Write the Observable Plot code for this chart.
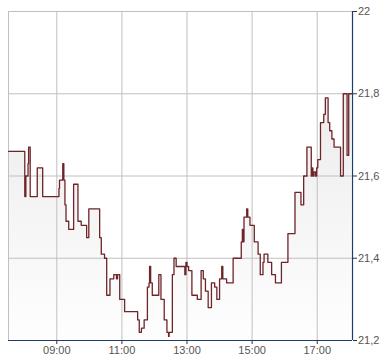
<!DOCTYPE html>
<html>
<head>
<meta charset="utf-8">
<script src="https://cdn.jsdelivr.net/npm/d3@7"></script>
<script src="https://cdn.jsdelivr.net/npm/@observablehq/plot@0.6"></script>
<style>
  html, body { margin: 0; padding: 0; background: #fff; }
  #chart text { fill: #555; }
</style>
</head>
<body>
<div id="chart"></div>
<script>
const times = ["07:31","08:01","08:03","08:07","08:08","08:11","08:24","08:34","09:04","09:05",
  "09:11","09:13","09:15","09:17","09:22","09:31","09:39","09:45","09:55","09:59",
  "10:19","10:22","10:28","10:32","10:38","10:45","10:50","10:52","10:56","11:05",
  "11:29","11:32","11:36","11:41","11:47","11:50","11:51","11:53","11:56","12:08",
  "12:12","12:18","12:23","12:26","12:27","12:33","12:36","12:40","12:56","12:58",
  "13:00","13:03","13:09","13:19","13:26","13:30","13:34","13:39","13:45","13:51",
  "13:55","14:00","14:04","14:06","14:13","14:25","14:40","14:42","14:43","14:45",
  "14:50","14:52","14:56","15:04","15:11","15:15","15:20","15:22","15:29","15:36",
  "15:43","15:54","16:06","16:19","16:30","16:35","16:41","16:49","16:50","16:52",
  "16:54","16:57","16:59","17:01","17:06","17:12","17:15","17:20","17:23","17:27",
  "17:31","17:43","17:48","17:55","17:58","18:03"];
const prices = [21.66,21.55,21.60,21.63,21.67,21.55,21.62,21.55,21.57,21.59,
  21.63,21.59,21.53,21.49,21.47,21.58,21.49,21.48,21.45,21.52,
  21.45,21.41,21.40,21.31,21.35,21.36,21.35,21.36,21.30,21.27,
  21.25,21.22,21.23,21.25,21.33,21.34,21.38,21.34,21.31,21.36,
  21.30,21.25,21.22,21.21,21.22,21.36,21.40,21.38,21.36,21.39,
  21.38,21.37,21.31,21.30,21.37,21.35,21.32,21.28,21.34,21.33,
  21.30,21.35,21.38,21.35,21.34,21.40,21.44,21.47,21.44,21.50,
  21.52,21.50,21.48,21.44,21.41,21.36,21.39,21.41,21.39,21.36,
  21.34,21.39,21.46,21.56,21.53,21.60,21.67,21.60,21.62,21.60,
  21.61,21.60,21.62,21.64,21.73,21.75,21.79,21.73,21.71,21.69,
  21.67,21.60,21.80,21.65,21.80,21.80];
const xTicks = ["09:00","11:00","13:00","15:00","17:00"];
const yTicks = [21.2, 21.4, 21.6, 21.8, 22];
const xStart = "07:31";
const xEnd = "18:05";

const toH = s => { const [h, m] = s.split(":").map(Number); return h + m / 60; };
const data = times.map((t, i) => ({h: toH(t), v: prices[i]}));
const xTickH = xTicks.map(toH);
const x0 = toH(xStart), x1 = toH(xEnd);
const yMin = yTicks[0], yMax = yTicks[yTicks.length - 1];
const fmtX = h => xTicks[xTickH.indexOf(h)] ?? "";
const fmtY = d => (Number.isInteger(d) ? String(d) : d.toFixed(1)).replace(".", ",");

const chart = Plot.plot({
  width: 390,
  height: 364,
  marginLeft: 8,
  marginRight: 38,
  marginTop: 11,
  marginBottom: 24,
  style: {fontFamily: "Arial, 'Liberation Sans', sans-serif", fontSize: "11px", background: "white", overflow: "visible"},
  x: {domain: [x0, x1]},
  y: {domain: [yMin, yMax]},
  marks: [
    Plot.areaY(data, {x: "h", y1: yMin, y2: "v", curve: "step-after", fill: "url(#areaGrad)"}),
    Plot.ruleX(xTickH, {stroke: "#c0c0c0", strokeWidth: 1}),
    Plot.ruleX([x0], {stroke: "#c0c0c0", strokeWidth: 1}),
    Plot.ruleY(yTicks.slice(1), {stroke: "#c0c0c0", strokeWidth: 1}),
    Plot.line(data, {x: "h", y: "v", curve: "step-after", stroke: "#6e2428", strokeWidth: 1.3}),
    Plot.ruleY([yMin], {stroke: "#1d3b6e", strokeWidth: 1.2}),
    Plot.ruleX([x1], {stroke: "#1d3b6e", strokeWidth: 1.2}),
    Plot.axisX(xTickH, {tickFormat: fmtX, tickSize: 4, tickPadding: 2, stroke: "#333", label: null}),
    Plot.axisY(yTicks, {anchor: "right", tickFormat: fmtY, tickSize: 4, tickPadding: 1.5, stroke: "#333", label: null})
  ]
});

const ns = "http://www.w3.org/2000/svg";
const defs = document.createElementNS(ns, "defs");
const grad = document.createElementNS(ns, "linearGradient");
grad.setAttribute("id", "areaGrad");
grad.setAttribute("gradientUnits", "userSpaceOnUse");
grad.setAttribute("x1", "0"); grad.setAttribute("x2", "0");
grad.setAttribute("y1", "11"); grad.setAttribute("y2", "340");
[["0", "#e6e6e6"], ["1", "#fefefe"]].forEach(([o, c]) => {
  const s = document.createElementNS(ns, "stop");
  s.setAttribute("offset", o); s.setAttribute("stop-color", c);
  grad.appendChild(s);
});
defs.appendChild(grad);
chart.insertBefore(defs, chart.firstChild);
document.getElementById("chart").appendChild(chart);
</script>
</body>
</html>
